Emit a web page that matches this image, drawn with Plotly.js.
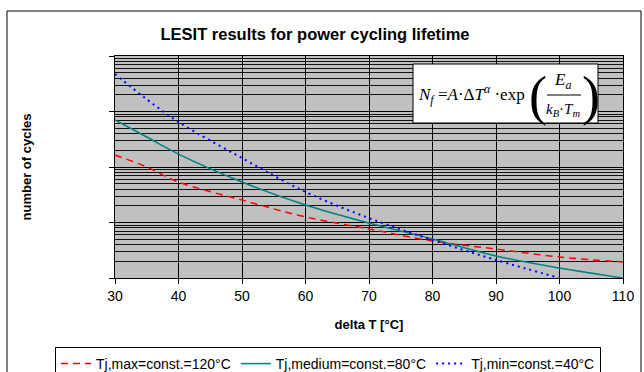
<!DOCTYPE html>
<html>
<head>
<meta charset="utf-8">
<script src="https://cdn.plot.ly/plotly-3.0.1.min.js"></script>
<style>html,body{margin:0;padding:0;background:#fff;overflow:hidden;}#chart{width:644px;height:372px;}</style>
</head>
<body>
<div id="chart"></div>
<script>
// delta T [°C]
const deltaT = [30, 35, 40, 50, 60, 70, 80, 90, 100, 110];
// number of cycles
const tjMax120 = [164000, 100000, 53700, 25400, 12600, 7640, 4650, 3330, 2390, 1940];
const tjMed80  = [703000, 347000, 171000, 53700, 20700, 9800, 5050, 2490, 1510, 1000];
const tjMin40  = [4740000, 1660000, 647000, 145000, 35500, 12000, 4840, 2110, 1000, null];
const seriesNames = ["Tj,max=const.=120°C", "Tj,medium=const.=80°C", "Tj,min=const.=40°C"];
const xTicks = [30, 40, 50, 60, 70, 80, 90, 100, 110];

const W = 644, H = 372, L = 115, R = 21, T = 56, B = 94;
const pw = W - L - R, ph = H - T - B;
const px = x => (x - L) / pw;
const py = y => (H - B - y) / ph;

const traces = [
  {x: deltaT, y: tjMax120, name: seriesNames[0], mode: 'lines',
   line: {color: '#ff0000', width: 1.5, dash: '7px,5px', shape: 'spline'}},
  {x: deltaT, y: tjMed80, name: seriesNames[1], mode: 'lines',
   line: {color: '#008080', width: 1.5, shape: 'spline'}},
  {x: deltaT, y: tjMin40, name: seriesNames[2], mode: 'lines', connectgaps: false,
   line: {color: '#0000ff', width: 2, dash: '2px,4px', shape: 'spline'}}
];

const serif = 'Liberation Serif, Times New Roman, serif';
const layout = {
  width: W, height: H,
  margin: {l: L, r: R, t: T, b: B, autoexpand: false},
  paper_bgcolor: '#ffffff', plot_bgcolor: '#c0c0c0',
  font: {family: 'Liberation Sans, Arial, sans-serif', color: '#000', size: 14},
  title: {text: '<b>LESIT results for power cycling lifetime</b>', font: {size: 16.5},
          x: 315 / W, xref: 'container', xanchor: 'center', y: 1 - 34 / H, yref: 'container', yanchor: 'middle'},
  xaxis: {range: [30, 110], tickvals: xTicks, ticktext: xTicks.map(String),
          showgrid: true, gridcolor: '#000', gridwidth: 1, zeroline: false,
          showline: true, linecolor: '#000', linewidth: 1, mirror: true,
          ticks: 'outside', ticklen: 5, tickcolor: '#000',
          tickfont: {size: 14},
          title: {text: '<b>delta T [°C]</b>', font: {size: 13}, standoff: 17}, automargin: false},
  yaxis: {type: 'log', range: [3, 7], dtick: 1, showticklabels: false,
          showgrid: true, gridcolor: '#000', gridwidth: 1, zeroline: false,
          showline: true, linecolor: '#000', linewidth: 1, mirror: true,
          ticks: 'outside', ticklen: 5, tickcolor: '#000',
          minor: {dtick: 'D1', showgrid: true, gridcolor: '#111', gridwidth: 1, ticks: ''},
          title: {text: '<b>number of cycles</b>', font: {size: 13}, standoff: 74}, automargin: false},
  showlegend: true,
  legend: {orientation: 'h', xref: 'paper', yref: 'paper',
           x: px(55), y: py(347), xanchor: 'left', yanchor: 'top',
           bgcolor: '#fff', bordercolor: '#000', borderwidth: 1, font: {size: 14},
           traceorder: 'normal'},
  shapes: [
    {type: 'rect', xref: 'paper', yref: 'paper', x0: px(7), x1: px(641), y0: py(390), y1: py(11),
     line: {color: '#000', width: 1}, fillcolor: 'rgba(0,0,0,0)', layer: 'above'},
    {type: 'rect', xref: 'paper', yref: 'paper', x0: px(413), x1: px(598), y0: py(123), y1: py(64),
     line: {color: '#000', width: 1}, fillcolor: '#ffffff', layer: 'above'},
    {type: 'line', xref: 'paper', yref: 'paper', x0: px(547), x1: px(581), y0: py(95), y1: py(95),
     line: {color: '#000', width: 1}, layer: 'above'}
  ],
  annotations: [
    {xref: 'paper', yref: 'paper', x: px(416), y: py(94), xanchor: 'left', yanchor: 'middle', showarrow: false,
     text: '<i>N<sub>f</sub></i> =<i>A</i>·Δ<i>T<sup>α</sup></i> ·exp', font: {family: serif, size: 17, color: '#000'}},
    {xref: 'paper', yref: 'paper', x: px(538), y: py(96), xanchor: 'center', yanchor: 'middle', showarrow: false,
     text: '(', font: {family: serif, size: 54, color: '#000'}},
    {xref: 'paper', yref: 'paper', x: px(591), y: py(96), xanchor: 'center', yanchor: 'middle', showarrow: false,
     text: ')', font: {family: serif, size: 54, color: '#000'}},
    {xref: 'paper', yref: 'paper', x: px(562), y: py(81), xanchor: 'center', yanchor: 'middle', showarrow: false,
     text: '<i>E<sub>a</sub></i>', font: {family: serif, size: 17, color: '#000'}},
    {xref: 'paper', yref: 'paper', x: px(563), y: py(110), xanchor: 'center', yanchor: 'middle', showarrow: false,
     text: '<i>k<sub>B</sub></i>·<i>T<sub>m</sub></i>', font: {family: serif, size: 15, color: '#000'}}
  ]
};

Plotly.newPlot('chart', traces, layout, {displayModeBar: false, staticPlot: true});
</script>
</body>
</html>
